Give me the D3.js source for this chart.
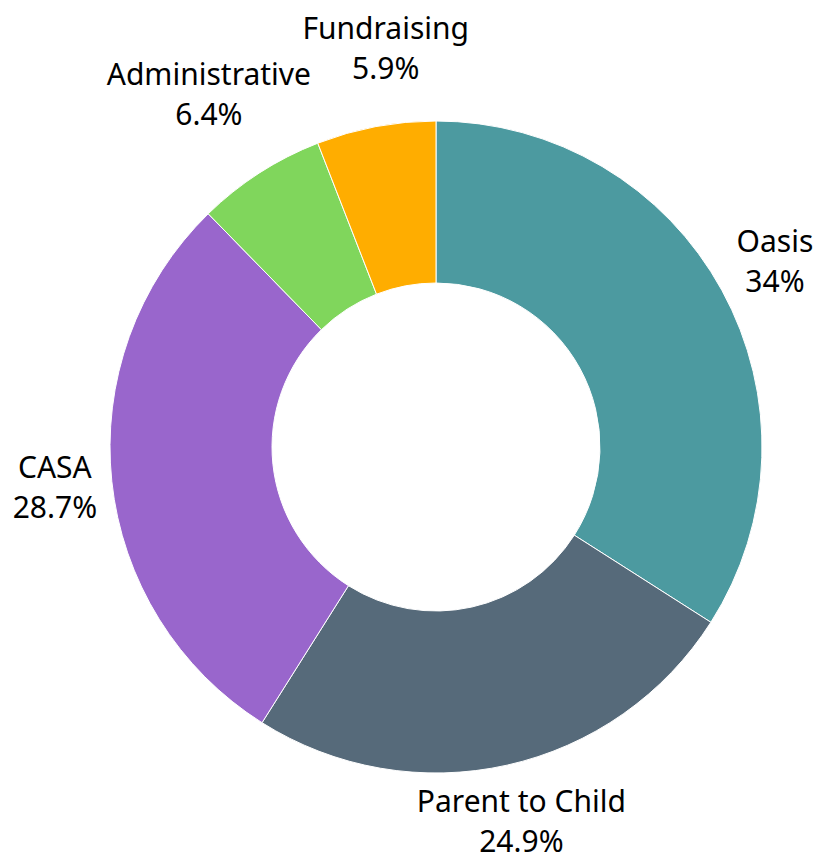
<!DOCTYPE html>
<html>
<head>
<meta charset="utf-8">
<script src="https://cdn.jsdelivr.net/npm/d3@7"></script>
<style>
  body { margin: 0; background: #fff; }
  text { font-family: "Noto Sans", sans-serif; font-size: 30px; fill: #000; }
</style>
</head>
<body>
<svg width="817" height="858"></svg>
<script>
const categories = ['Oasis', 'Parent to Child', 'CASA', 'Administrative', 'Fundraising'];
const shares = [34, 24.9, 28.7, 6.4, 5.9];
const colors = ['#4c9aa0', '#566a7a', '#9966cc', '#80d65c', '#ffad00'];

const data = categories.map((c, i) => ({ name: c, value: shares[i], color: colors[i] }));

const svg = d3.select('svg');
const W = 817, H = 858;
const cx = 436, cy = 447;
const outerR = 326;
const innerR = 164;

const chart = svg.append('g')
    .attr('transform', `translate(${cx}, ${cy})`);

const pie = d3.pie()
    .sort(null)
    .value((d) => d.value);

const arc = d3.arc()
    .innerRadius(innerR)
    .outerRadius(outerR);

const arcs = pie(data);

chart.selectAll('path')
    .data(arcs)
    .enter()
    .append('path')
    .attr('d', arc)
    .attr('fill', (d) => d.data.color)
    .attr('stroke', '#fff')
    .attr('stroke-width', 1);

// labels sit just outside the ring, pushed out by half their box
const labelR = 338;
const lineH = 40;
const capH = 22;
const boxH = lineH + capH;

const labels = chart.selectAll('g.label')
    .data(arcs)
    .enter()
    .append('g')
    .attr('class', 'label');

labels.append('text')
    .attr('text-anchor', 'middle')
    .attr('y', -boxH / 2 + capH)
    .text((d) => d.data.name);

labels.append('text')
    .attr('text-anchor', 'middle')
    .attr('y', -boxH / 2 + capH + lineH)
    .text((d) => `${d.data.value}%`);

const place = (a, w, extra) => {
    const dist = labelR + extra + Math.abs(Math.sin(a)) * w / 2 + Math.abs(Math.cos(a)) * boxH / 2;
    return [Math.sin(a) * dist, -Math.cos(a) * dist];
};

const overlaps = (p, q) =>
    Math.abs(p.x - q.x) < (p.w + q.w) / 2 - 10 && Math.abs(p.y - q.y) < boxH - 6;

const placed = [];
labels.each(function (d) {
    let w = 0;
    d3.select(this).selectAll('text').each(function () {
        w = Math.max(w, this.getComputedTextLength());
    });
    let a = (d.startAngle + d.endAngle) / 2;
    let extra = 0;
    let [x, y] = place(a, w, extra);
    let box = { x, y, w };
    let n = 0;
    while (placed.some((q) => overlaps(box, q)) && n < 100) {
        a += 0.004;
        extra += 1.5;
        [x, y] = place(a, w, extra);
        box = { x, y, w };
        n++;
    }
    // keep the label inside the picture
    y = Math.min(y, H - 6 - cy - boxH / 2);
    box.y = y;
    placed.push(box);
    d3.select(this).attr('transform', `translate(${x}, ${y})`);
});
</script>
</body>
</html>
